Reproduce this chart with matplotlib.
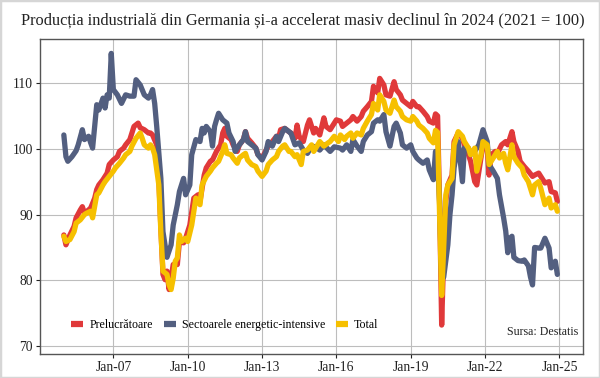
import matplotlib
matplotlib.use("Agg")
import matplotlib.dates as mdates
import matplotlib.pyplot as plt
import pandas as pd
from matplotlib.lines import Line2D
from matplotlib.patches import Rectangle

# month offsets are counted from January 2005
START = pd.Timestamp("2005-01-01")

TITLE = "Producția industrială din Germania și-a accelerat masiv declinul în 2024 (2021 = 100)"
SOURCE = "Sursa: Destatis"
LABELS = ["Prelucrătoare", "Sectoarele energetic-intensive", "Total"]
COLORS = ["#e0393a", "#535f80", "#f6c000"]

prel_month = [
    0, 1, 3, 5, 6, 8, 9, 10, 12, 13, 15, 16, 17, 19, 21, 22, 24, 26, 27, 29,
    30, 32, 33, 34, 36, 37, 39, 41, 42, 43, 45, 46, 47, 48, 49, 50, 51, 52, 53, 55,
    56, 58, 59, 61, 63, 65, 66, 68, 69, 71, 72, 74, 76, 77, 78, 79, 81, 82, 84, 85,
    87, 88, 89, 91, 93, 94, 96, 98, 99, 101, 103, 104, 105, 107, 109, 110, 112, 113, 114, 116,
    118, 119, 121, 122, 124, 126, 127, 129, 131, 132, 134, 135, 137, 139, 140, 142, 144, 145, 147, 149,
    150, 152, 153, 155, 156, 158, 160, 161, 163, 164, 166, 168, 169, 171, 172, 174, 176, 177, 179, 180,
    181, 182, 183, 184, 185, 186, 188, 189, 191, 193, 194, 196, 197, 199, 200, 202, 203, 205, 206, 207,
    209, 210, 212, 214, 215, 217, 218, 220, 221, 223, 225, 227, 228, 230, 231, 233, 235, 236, 238, 239,
]
prel_value = [
    86.9, 85.4, 86.9, 88.2, 89.5, 90.7, 91.2, 90.2, 90.7, 91.0, 92.5, 93.8, 94.5, 95.3, 96.3, 97.6, 98.3, 98.8, 99.6, 100.1,
    100.6, 101.4, 102.4, 103.4, 103.9, 103.2, 102.9, 102.4, 102.4, 102.1, 100.6, 95.5, 87.9, 80.9, 80.1, 81.4, 78.6, 80.3, 82.4, 82.4,
    85.9, 85.7, 86.4, 88.4, 92.5, 93.0, 92.0, 96.0, 97.1, 98.1, 98.3, 99.6, 100.6, 102.4, 103.1, 101.9, 101.4, 100.6, 99.6, 100.6,
    101.4, 102.6, 101.6, 100.9, 100.1, 99.1, 98.6, 99.8, 100.4, 101.1, 101.9, 101.6, 102.9, 103.1, 102.6, 102.4, 101.6, 103.6, 101.9, 101.1,
    103.6, 104.4, 102.4, 103.1, 102.1, 104.7, 103.4, 102.9, 103.9, 104.4, 104.2, 103.4, 103.9, 104.4, 104.9, 104.2, 104.9, 105.7, 106.4, 107.2,
    109.5, 108.5, 110.7, 109.7, 108.2, 108.0, 110.2, 109.0, 108.2, 107.4, 106.9, 106.4, 107.2, 106.4, 106.4, 105.7, 104.9, 104.2, 103.9, 105.3,
    105.0, 92.0, 73.2, 84.0, 92.0, 94.5, 96.0, 101.1, 102.4, 101.6, 100.6, 99.1, 98.1, 95.0, 94.5, 98.6, 100.6, 100.1, 96.0, 99.1,
    99.6, 99.3, 100.6, 101.1, 100.6, 102.6, 101.1, 99.6, 98.1, 97.3, 96.6, 95.8, 96.0, 96.3, 95.8, 94.8, 95.0, 93.5, 93.3, 92.0,
]

energy_month = [
    0, 1, 2, 4, 6, 7, 9, 10, 12, 13, 14, 16, 17, 19, 20, 21, 22, 23, 24, 26,
    28, 30, 32, 34, 35, 37, 39, 41, 42, 43, 44, 45, 47, 48, 50, 52, 53, 55, 56, 58,
    59, 61, 62, 64, 66, 67, 68, 69, 71, 72, 73, 74, 75, 77, 79, 80, 82, 83, 85, 87,
    88, 89, 91, 93, 94, 96, 98, 99, 101, 103, 104, 106, 107, 109, 110, 112, 114, 116, 118, 120,
    122, 124, 126, 129, 131, 134, 135, 137, 139, 140, 142, 144, 145, 147, 149, 150, 152, 153, 155, 156,
    158, 160, 161, 163, 164, 166, 168, 169, 171, 172, 174, 176, 177, 179, 180, 181, 182, 183, 184, 185,
    186, 187, 188, 189, 191, 193, 194, 196, 197, 199, 201, 203, 205, 206, 208, 210, 211, 213, 214, 215,
    216, 217, 218, 220, 222, 223, 225, 226, 227, 228, 230, 231, 233, 235, 236, 238, 239,
]
energy_value = [
    102.1, 98.8, 98.1, 98.8, 99.7, 100.6, 102.9, 101.4, 101.9, 100.9, 100.1, 106.7, 105.9, 107.7, 106.2, 108.2, 107.7, 114.5, 109.0, 108.2,
    106.9, 108.2, 108.0, 108.0, 110.5, 109.7, 108.2, 107.7, 108.2, 109.0, 106.9, 103.4, 95.5, 87.4, 83.5, 85.4, 88.4, 91.5, 93.5, 95.5,
    93.0, 94.5, 99.1, 101.4, 101.1, 103.1, 102.4, 103.4, 102.6, 100.4, 103.4, 104.4, 105.4, 104.4, 103.9, 102.4, 101.1, 99.6, 100.6, 101.4,
    102.6, 101.1, 100.6, 100.1, 99.1, 98.3, 99.6, 101.1, 100.4, 101.9, 101.1, 102.6, 103.1, 102.6, 102.4, 100.6, 100.9, 99.8, 99.3, 100.4,
    100.3, 99.8, 100.6, 99.6, 100.3, 100.1, 99.8, 100.6, 99.6, 101.4, 100.4, 99.6, 101.1, 102.1, 102.6, 103.9, 104.4, 104.2, 105.2, 102.6,
    100.4, 103.4, 103.9, 102.4, 100.6, 100.1, 100.6, 99.6, 98.6, 98.3, 97.8, 98.3, 96.8, 95.3, 99.6, 98.0, 92.0, 80.0, 80.5, 83.0,
    85.4, 90.0, 93.0, 97.1, 101.1, 95.0, 100.1, 100.1, 99.1, 99.6, 100.6, 102.9, 101.1, 97.6, 96.6, 95.5, 93.0, 89.5, 87.5, 84.2,
    86.4, 86.7, 83.5, 83.0, 82.9, 83.1, 82.2, 80.5, 79.3, 85.0, 84.9, 84.9, 86.4, 84.9, 81.9, 82.9, 80.9,
]

total_month = [
    0, 1, 3, 5, 6, 8, 10, 11, 13, 14, 16, 17, 19, 20, 22, 24, 25, 27, 29, 30,
    32, 33, 35, 37, 38, 39, 41, 42, 43, 44, 46, 47, 48, 50, 51, 52, 53, 54, 55, 56,
    57, 59, 60, 62, 64, 65, 66, 67, 69, 71, 72, 74, 75, 77, 78, 79, 81, 82, 84, 85,
    87, 88, 89, 91, 93, 94, 96, 98, 99, 101, 103, 104, 106, 107, 109, 110, 112, 113, 115, 116,
    118, 120, 121, 123, 124, 126, 128, 129, 131, 133, 134, 136, 137, 139, 140, 142, 144, 145, 147, 149,
    150, 152, 153, 155, 156, 158, 160, 161, 163, 164, 166, 168, 169, 171, 172, 174, 176, 177, 179, 180,
    181, 182, 183, 184, 185, 186, 188, 189, 191, 193, 194, 196, 197, 199, 200, 202, 203, 205, 206, 208,
    210, 211, 213, 214, 215, 217, 218, 220, 222, 223, 225, 227, 228, 230, 231, 233, 235, 236, 238, 239,
]
total_value = [
    86.7, 85.9, 86.2, 87.4, 88.7, 89.2, 90.0, 90.2, 90.5, 89.5, 93.0, 93.3, 94.5, 95.0, 95.8, 96.6, 97.1, 97.8, 98.6, 99.1,
    99.6, 100.4, 101.6, 102.4, 101.6, 100.6, 100.1, 100.6, 100.1, 99.1, 94.5, 87.4, 81.4, 80.9, 79.3, 78.6, 80.3, 82.9, 83.4, 86.9,
    85.9, 86.4, 85.9, 88.4, 92.5, 92.0, 91.5, 94.5, 95.8, 96.6, 97.1, 97.8, 98.1, 99.6, 100.6, 99.3, 99.1, 98.6, 97.8, 98.6,
    99.1, 99.3, 98.3, 97.6, 97.3, 96.6, 95.8, 96.6, 97.6, 98.3, 98.8, 99.6, 100.4, 100.6, 99.6, 99.6, 98.8, 99.1, 97.6, 99.6,
    99.8, 100.6, 99.6, 100.6, 101.1, 100.4, 100.9, 101.1, 101.9, 101.1, 102.1, 101.4, 101.9, 102.4, 101.6, 102.4, 102.1, 103.1, 104.2, 105.2,
    106.9, 105.9, 108.2, 107.2, 105.9, 105.4, 107.4, 106.4, 105.7, 104.9, 104.4, 104.2, 104.9, 104.2, 103.6, 103.1, 102.4, 101.6, 100.9, 102.8,
    102.5, 90.0, 77.7, 85.0, 93.0, 94.5, 95.5, 100.6, 102.6, 101.9, 101.1, 100.1, 99.1, 100.1, 96.6, 99.1, 101.1, 100.6, 97.6, 98.6,
    99.6, 98.6, 99.3, 97.8, 96.8, 100.6, 98.8, 97.8, 97.1, 96.0, 95.0, 93.0, 94.5, 95.0, 94.0, 91.5, 92.5, 91.0, 91.5, 90.5,
]


def to_dates(months):
    return [START + pd.DateOffset(months=m) for m in months]


def main():
    plt.rcParams["font.family"] = ["Liberation Serif", "DejaVu Serif"]

    fig = plt.figure(figsize=(6, 3.78), dpi=100)
    fig.patches.append(Rectangle((0, 0), 1, 1, transform=fig.transFigure, fill=False,
                                 edgecolor="#d6d6d6", linewidth=2.5))
    ax = fig.add_axes([0.0667, 0.0635, 0.9045, 0.8335])

    series = [
        (prel_month, prel_value),
        (energy_month, energy_value),
        (total_month, total_value),
    ]
    for (months, values), color in zip(series, COLORS):
        ax.plot(to_dates(months), values, color=color, linewidth=3.8,
                solid_joinstyle="round", solid_capstyle="round")

    ax.set_xlim(pd.Timestamp("2004-01-16"), pd.Timestamp("2025-12-10"))
    ax.set_ylim(68.8, 116.7)
    ax.set_yticks([70, 80, 90, 100, 110])
    ax.xaxis.set_major_locator(mdates.YearLocator(3, month=1, day=1))
    ax.xaxis.set_major_formatter(mdates.DateFormatter("%b-%y"))

    ax.grid(True, color="#bdbdbd", linewidth=0.8)
    ax.set_axisbelow(True)
    ax.tick_params(axis="both", labelsize=9.8, colors="#222222", length=3, width=0.8, pad=2)
    for spine in ax.spines.values():
        spine.set_color("#555555")
        spine.set_linewidth(1.0)

    handles = [Line2D([0], [0], color=c, linewidth=4.5, solid_capstyle="butt") for c in COLORS]
    ax.legend(handles, LABELS, loc="center left", bbox_to_anchor=(0.058, 0.092), ncol=3,
              frameon=False, fontsize=8.6, handlelength=1.0, handletextpad=0.5,
              columnspacing=0.9, borderpad=0, borderaxespad=0)

    ax.text(0.991, 0.07, SOURCE, transform=ax.transAxes, ha="right", va="center",
            fontsize=8.6, color="#222222")

    fig.text(0.035, 1 - 20 / 378, TITLE, ha="left", va="center", fontsize=11.8, color="#222222")

    fig.savefig("out.png", dpi=100)


if __name__ == "__main__":
    main()
